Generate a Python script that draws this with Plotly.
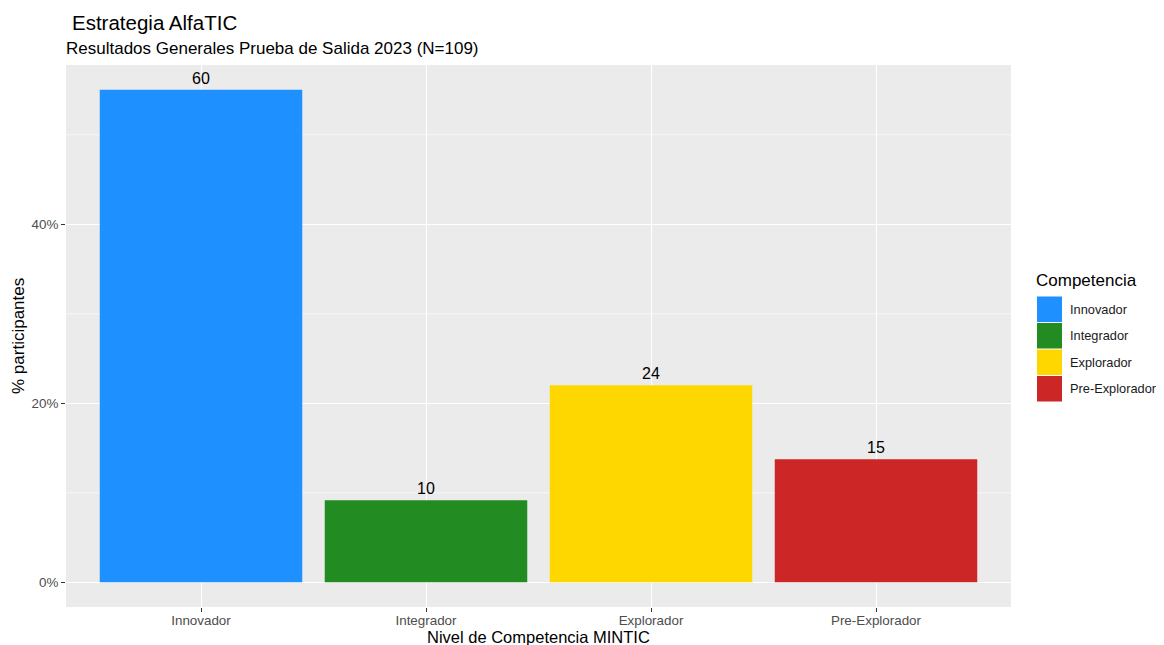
import plotly.graph_objects as go

categories = ["Innovador", "Integrador", "Explorador", "Pre-Explorador"]
counts = [60, 10, 24, 15]
total = 109
colors = ["#1E90FF", "#228B22", "#FFD700", "#CD2626"]
y_ticks = [0, 0.2, 0.4]
y_tick_labels = ["0%", "20%", "40%"]

pct = [c / total for c in counts]

fig = go.Figure()
fig.add_trace(go.Bar(
    x=categories, y=pct, marker=dict(color=colors, line=dict(width=0)),
    width=0.9, text=[str(c) for c in counts], textposition="outside",
    textfont=dict(size=16, color="black"), cliponaxis=False, showlegend=False,
    hoverinfo="x+y",
))

# page has an 8px body margin; work in reference pixel coordinates and shift
OFF = 8
W, H = 1164 - 2 * OFF, 645 - OFF
L, T = 66 - OFF, 65 - OFF
R = W - (1011 - OFF)
B = H - (607 - OFF)
pw, ph = W - L - R, H - T - B

def px_x(px):
    return (px - OFF - L) / pw

def px_y(py):
    return (H - B - (py - OFF)) / ph

shapes = []
annotations = []
ymax = max(pct) * 1.05
ymin = -max(pct) * 0.05
for v in [0.1, 0.3, 0.5]:
    shapes.append(dict(type="line", xref="paper", x0=0, x1=1, yref="y", y0=v, y1=v,
                       line=dict(color="white", width=0.6), layer="below"))

# legend drawn as ggplot-style keys
annotations.append(dict(text="Competencia", x=px_x(1034), y=px_y(280), xref="paper", yref="paper",
                        xanchor="left", yanchor="middle", showarrow=False,
                        font=dict(size=17, color="black")))
key_top = 296
key_h = 26.5
for i, (cat, col) in enumerate(zip(categories, colors)):
    y0 = key_top + i * key_h
    shapes.append(dict(type="rect", xref="paper", yref="paper",
                       x0=px_x(1037), x1=px_x(1062), y0=px_y(y0 + key_h - 0.5), y1=px_y(y0 + 0.5),
                       fillcolor=col, line=dict(width=0)))
    annotations.append(dict(text=cat, x=px_x(1068), y=px_y(y0 + key_h / 2), xref="paper", yref="paper",
                            xanchor="left", yanchor="middle", showarrow=False,
                            font=dict(size=12.8, color="#1A1A1A")))

# titles
annotations.append(dict(text="Estrategia AlfaTIC", x=px_x(70), y=px_y(22), xref="paper", yref="paper",
                        xanchor="left", yanchor="middle", showarrow=False,
                        font=dict(size=20.5, color="black")))
annotations.append(dict(text="Resultados Generales Prueba de Salida 2023 (N=109)", x=px_x(64), y=px_y(48),
                        xref="paper", yref="paper", xanchor="left", yanchor="middle", showarrow=False,
                        font=dict(size=17, color="black")))
annotations.append(dict(text="Nivel de Competencia MINTIC", x=0.5, y=px_y(637), xref="paper", yref="paper",
                        xanchor="center", yanchor="middle", showarrow=False,
                        font=dict(size=16.5, color="black")))
annotations.append(dict(text="% participantes", x=px_x(18), y=0.5, xref="paper", yref="paper",
                        xanchor="center", yanchor="middle", showarrow=False, textangle=-90,
                        font=dict(size=17, color="black")))

fig.update_layout(
    width=W, height=H,
    margin=dict(l=L, r=R, t=T, b=B, autoexpand=False),
    paper_bgcolor="white", plot_bgcolor="#EBEBEB",
    font=dict(family="Liberation Sans, Arial, sans-serif"),
    xaxis=dict(range=[-0.6, 3.6], showgrid=True, gridcolor="white", gridwidth=1.2,
               ticks="outside", ticklen=4, tickcolor="#333333", tickwidth=1,
               tickfont=dict(size=13.4, color="#4D4D4D"), zeroline=False, showline=False,
               ticklabelstandoff=-3,
               categoryorder="array", categoryarray=categories),
    yaxis=dict(range=[ymin, ymax], tickvals=y_ticks, ticktext=y_tick_labels,
               showgrid=True, gridcolor="white", gridwidth=1.2,
               ticks="outside", ticklen=4, tickcolor="#333333", tickwidth=1,
               tickfont=dict(size=13.4, color="#4D4D4D"), zeroline=False, showline=False),
    shapes=shapes, annotations=annotations, bargap=0.1,
)

fig.write_html("out.html")
